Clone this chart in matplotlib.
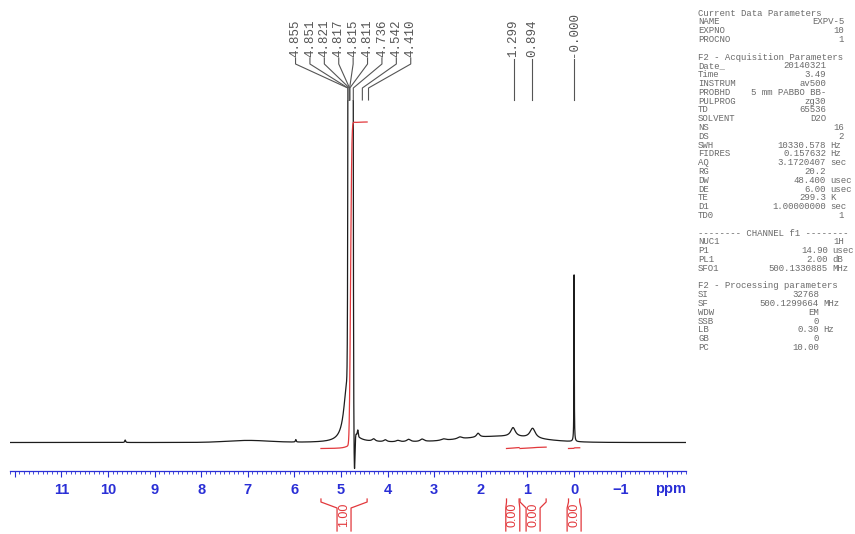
import numpy as np
import matplotlib
matplotlib.use('Agg')
import matplotlib.pyplot as plt

# chemical shift window, left to right (ppm)
ppm_left, ppm_right = 12.10, -2.40

# gaussian components: centre (ppm), height, sigma (ppm)
gauss_ppm = [4.795, 4.712, 4.640, 7.00, 1.60]
gauss_height = [20000.0, -41.0, 6.0, 2.0, 6.0]
gauss_sigma = [0.020, 0.012, 0.010, 0.45, 0.80]

# lorentzian lines: centre (ppm), height, half width (ppm)
lor_ppm = [4.870, 9.63, 5.97, 4.30, 4.05, 3.78, 3.55, 3.26, 2.80, 2.45, 2.06, 1.31, 0.89, 0.000]
lor_height = [60.0, 2.5, 2.5, 2.5, 2.0, 1.5, 2.5, 2.5, 1.5, 2.0, 4.0, 9.0, 10.0, 167.0]
lor_width = [0.080, 0.010, 0.010, 0.040, 0.040, 0.050, 0.050, 0.050, 0.060, 0.060, 0.040, 0.060, 0.070, 0.004]

# peak picking
multiplet_ppm = [4.855, 4.851, 4.821, 4.817, 4.815, 4.811, 4.736, 4.542, 4.410]
single_ppm = [1.299, 0.894, -0.000]

# integration regions (ppm)
int_start = [5.43, 1.45, 1.16, 0.12]
int_end = [4.44, 1.18, 0.60, -0.12]

# acquisition / processing parameter listing
head_current = 'Current Data Parameters'
current_rows = [('NAME', 'EXPV-5', ''), ('EXPNO', '10', ''), ('PROCNO', '1', '')]
head_acq = 'F2 - Acquisition Parameters'
acq_rows = [('Date_', '20140321', ''), ('Time', '3.49', ''), ('INSTRUM', 'av500', ''),
            ('PROBHD', '5 mm PABBO BB-', ''), ('PULPROG', 'zg30', ''), ('TD', '65536', ''),
            ('SOLVENT', 'D2O', ''), ('NS', '16', ''), ('DS', '2', ''),
            ('SWH', '10330.578', 'Hz'), ('FIDRES', '0.157632', 'Hz'), ('AQ', '3.1720407', 'sec'),
            ('RG', '20.2', ''), ('DW', '48.400', 'usec'), ('DE', '6.00', 'usec'),
            ('TE', '299.3', 'K'), ('D1', '1.00000000', 'sec'), ('TD0', '1', '')]
head_chan = '-------- CHANNEL f1 --------'
chan_rows = [('NUC1', '1H', ''), ('P1', '14.90', 'usec'), ('PL1', '2.00', 'dB'),
             ('SFO1', '500.1330885', 'MHz')]
head_proc = 'F2 - Processing parameters'
proc_rows = [('SI', '32768', ''), ('SF', '500.1299664', 'MHz'), ('WDW', 'EM', ''),
             ('SSB', '0', ''), ('LB', '0.30', 'Hz'), ('GB', '0', ''), ('PC', '10.00', '')]
int_keys = {'NAME', 'EXPNO', 'PROCNO', 'NS', 'DS', 'TD0', 'NUC1'}

# ---- build the trace ----
ppm = np.linspace(ppm_left, ppm_right, 40000)
spec = np.zeros_like(ppm)
for c, h, s in zip(gauss_ppm, gauss_height, gauss_sigma):
    spec += h * np.exp(-(ppm - c) ** 2 / (2 * s ** 2))
for c, h, w in zip(lor_ppm, lor_height, lor_width):
    spec += h * w ** 2 / ((ppm - c) ** 2 + w ** 2)
dppm = abs(ppm[1] - ppm[0])

W, H = 855, 534
box_l, box_r, box_t, box_b = 10, 686, 100, 471
base_px = 442.5
blue = '#2a2fd6'
red = '#e2383c'
grey = '#555555'

fig = plt.figure(figsize=(W / 100, H / 100), dpi=100)
ax = fig.add_axes([box_l / W, 1 - box_b / H, (box_r - box_l) / W, (box_b - box_t) / H])
ax.set_xlim(ppm_left, ppm_right)
ax.set_ylim(-(box_b - base_px), base_px - box_t)


def fy(py):
    # pixel row -> axes fraction
    return (box_b - py) / (box_b - box_t)


ax.plot(ppm, spec, color='#1c1c1c', lw=0.9)

# integrals
areas = []
curves = []
for a, b in zip(int_start, int_end):
    m = (ppm <= a) & (ppm >= b)
    cum = np.cumsum(spec[m]) * dppm
    areas.append(cum[-1])
    curves.append((ppm[m], cum))
int_scale = 326.5 / areas[0]
xf = ax.get_xaxis_transform()
half = 7.0 / ((box_r - box_l) / (ppm_left - ppm_right))
for (a, b), (x, cum), area in zip(zip(int_start, int_end), curves, areas):
    ax.plot(x, -6 + cum * int_scale, color=red, lw=0.9)
    mid = (a + b) / 2
    for edge, inner in ((a, mid + half), (b, mid - half)):
        ax.plot([edge, edge, inner, inner], [fy(499), fy(502), fy(508), fy(531)],
                color=red, lw=0.9, transform=xf, clip_on=False)
    ax.text(mid, fy(515), f'{area / areas[0]:.2f}', rotation=90, ha='center', va='center',
            color=red, fontsize=9, family='Liberation Sans', transform=xf)

# peak labels
step = 14.4 / ((box_r - box_l) / (ppm_left - ppm_right))
centre = np.mean(multiplet_ppm)
n = len(multiplet_ppm)
for i, p in enumerate(multiplet_ppm):
    lx = centre + ((n - 1) / 2 - i) * step
    ax.plot([lx, lx, p, p], [fy(58), fy(64), fy(88), fy(100)], color=grey, lw=0.8,
            transform=xf, clip_on=False)
    ax.text(lx, fy(57), f'{p:.3f}', rotation=90, ha='center', va='bottom', color=grey,
            fontsize=9, family='Liberation Mono', transform=xf)
for p in single_ppm:
    ax.plot([p, p], [fy(59), fy(100)], color=grey, lw=0.8, transform=xf, clip_on=False)
    ax.text(p, fy(57), f'{p:.3f}', rotation=90, ha='center', va='bottom', color=grey,
            fontsize=9, family='Liberation Mono', transform=xf)

# ppm axis
for s in ('top', 'left', 'right'):
    ax.spines[s].set_visible(False)
ax.spines['bottom'].set_color(blue)
ax.spines['bottom'].set_linewidth(0.9)
ax.set_yticks([])
major = np.arange(-2, 13)
ax.set_xticks(major)
ax.set_xticklabels(['' if v in (-2, 12) else str(v).replace('-', '\u2212') for v in major],
                   fontweight='bold', family='Liberation Sans')
ax.set_xticks(np.arange(-24, 122) / 10, minor=True)
ax.tick_params(axis='x', which='major', length=4, width=0.8, color=blue, pad=5,
               labelsize=10.5, labelcolor=blue)
ax.tick_params(axis='x', which='minor', length=2.2, width=0.6, color=blue)
ax.text(-2.06, fy(489), 'ppm', ha='center', va='center', color=blue, fontsize=10.5,
        fontweight='bold', family='Liberation Sans', transform=xf)

# parameter listing
row_h = 8.8
row = 0


def put(text, x, ha='left'):
    fig.text(x / W, 1 - (13 + row * row_h) / H, text, ha=ha, va='center', color='#6a6a6a',
             fontsize=6.5, family='Liberation Mono')


for head, rows, right in ((head_current, current_rows, 844), (head_acq, acq_rows, 826),
                          (head_chan, chan_rows, 828), (head_proc, proc_rows, 819)):
    put(head, 698)
    row += 1
    for key, val, unit in rows:
        put(key, 698)
        end = 844 if key in int_keys else right
        put(val, end, ha='right')
        if unit:
            put(unit, end + 4)
        row += 1
    row += 1

fig.savefig('out.png', dpi=100)
